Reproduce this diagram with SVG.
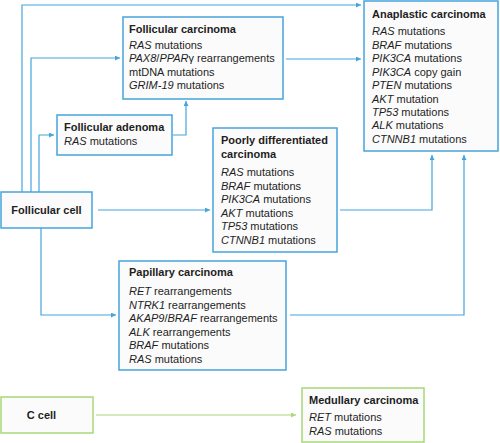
<svg xmlns="http://www.w3.org/2000/svg" width="500" height="443" viewBox="0 0 500 443">
<defs>
<style>
text{font-family:"Liberation Sans",Arial,sans-serif;font-size:11px;fill:#1e1e1e}
.t{font-weight:bold}
.i{font-style:italic}
.bx{fill:#fbfbfb;stroke:#45a5dc;stroke-width:1.5}
.gx{fill:#fbfbfb;stroke:#a8d878;stroke-width:1.5}
.ln{fill:none;stroke:#45a5dc;stroke-width:1.2}
.gl{fill:none;stroke:#a8d878;stroke-width:1.2}
</style>
<marker id="ab" viewBox="0 0 6 6" refX="6" refY="3" markerWidth="6" markerHeight="5" markerUnits="userSpaceOnUse" orient="auto"><path d="M0,0L6,3L0,6z" fill="#45a5dc"/></marker>
<marker id="ag" viewBox="0 0 6 6" refX="6" refY="3" markerWidth="6" markerHeight="5" markerUnits="userSpaceOnUse" orient="auto"><path d="M0,0L6,3L0,6z" fill="#a8d878"/></marker>
</defs>
<g id="connectors">
<path class="ln" marker-end="url(#ab)" d="M22,192V5H361"/>
<path class="ln" marker-end="url(#ab)" d="M31,192V58H120"/>
<path class="ln" marker-end="url(#ab)" d="M39,192V135H54"/>
<path class="ln" marker-end="url(#ab)" d="M173,135H186V101"/>
<path class="ln" marker-end="url(#ab)" d="M286,59H361"/>
<path class="ln" marker-end="url(#ab)" d="M98,210H210"/>
<path class="ln" marker-end="url(#ab)" d="M340,210H432V155"/>
<path class="ln" marker-end="url(#ab)" d="M41,228V315H116"/>
<path class="ln" marker-end="url(#ab)" d="M290,315H464V155"/>
<path class="gl" marker-end="url(#ag)" d="M96,415H296"/>
</g>
<g id="follicular-cell">
<rect class="bx" x="1" y="192" width="91" height="36"/>
<text class="t" x="46.5" y="214" text-anchor="middle">Follicular cell</text>
</g>
<g id="follicular-carcinoma">
<rect class="bx" x="123" y="17" width="160" height="82"/>
<text class="t" x="129" y="33">Follicular carcinoma</text>
<text x="129" y="48.5"><tspan class="i">RAS</tspan> mutations</text>
<text x="129" y="62"><tspan class="i">PAX8</tspan>/<tspan class="i">PPAR</tspan>γ rearrangements</text>
<text x="129" y="75.5">mtDNA mutations</text>
<text x="129" y="89"><tspan class="i">GRIM-19</tspan> mutations</text>
</g>
<g id="follicular-adenoma">
<rect class="bx" x="57" y="115" width="115" height="40"/>
<text class="t" x="64" y="131">Follicular adenoma</text>
<text x="64" y="145"><tspan class="i">RAS</tspan> mutations</text>
</g>
<g id="anaplastic-carcinoma">
<rect class="bx" x="364" y="1" width="134" height="150"/>
<text class="t" x="372" y="18">Anaplastic carcinoma</text>
<text x="372" y="35"><tspan class="i">RAS</tspan> mutations</text>
<text x="372" y="48.5"><tspan class="i">BRAF</tspan> mutations</text>
<text x="372" y="62"><tspan class="i">PIK3CA</tspan> mutations</text>
<text x="372" y="75.5"><tspan class="i">PIK3CA</tspan> copy gain</text>
<text x="372" y="89"><tspan class="i">PTEN</tspan> mutations</text>
<text x="372" y="102.5"><tspan class="i">AKT</tspan> mutation</text>
<text x="372" y="116"><tspan class="i">TP53</tspan> mutations</text>
<text x="372" y="129"><tspan class="i">ALK</tspan> mutations</text>
<text x="372" y="142.5"><tspan class="i">CTNNB1</tspan> mutations</text>
</g>
<g id="poorly-differentiated-carcinoma">
<rect class="bx" x="213" y="128" width="124" height="124"/>
<text class="t" x="221" y="144">Poorly differentiated</text>
<text class="t" x="221" y="157.5">carcinoma</text>
<text x="221" y="176"><tspan class="i">RAS</tspan> mutations</text>
<text x="221" y="189.5"><tspan class="i">BRAF</tspan> mutations</text>
<text x="221" y="203"><tspan class="i">PIK3CA</tspan> mutations</text>
<text x="221" y="216.5"><tspan class="i">AKT</tspan> mutations</text>
<text x="221" y="230"><tspan class="i">TP53</tspan> mutations</text>
<text x="221" y="243.5"><tspan class="i">CTNNB1</tspan> mutations</text>
</g>
<g id="papillary-carcinoma">
<rect class="bx" x="119" y="261" width="167" height="109"/>
<text class="t" x="129" y="276">Papillary carcinoma</text>
<text x="129" y="295"><tspan class="i">RET</tspan> rearrangements</text>
<text x="129" y="308.5"><tspan class="i">NTRK1</tspan> rearrangements</text>
<text x="129" y="322"><tspan class="i">AKAP9</tspan>/<tspan class="i">BRAF</tspan> rearrangements</text>
<text x="129" y="335.5"><tspan class="i">ALK</tspan> rearrangements</text>
<text x="129" y="349"><tspan class="i">BRAF</tspan> mutations</text>
<text x="129" y="362.5"><tspan class="i">RAS</tspan> mutations</text>
</g>
<g id="c-cell">
<rect class="gx" x="1" y="397" width="92" height="36"/>
<text class="t" x="41.5" y="419" text-anchor="middle">C cell</text>
</g>
<g id="medullary-carcinoma">
<rect class="gx" x="302" y="388" width="122" height="54"/>
<text class="t" x="309" y="404">Medullary carcinoma</text>
<text x="309" y="421"><tspan class="i">RET</tspan> mutations</text>
<text x="309" y="435"><tspan class="i">RAS</tspan> mutations</text>
</g>
</svg>
